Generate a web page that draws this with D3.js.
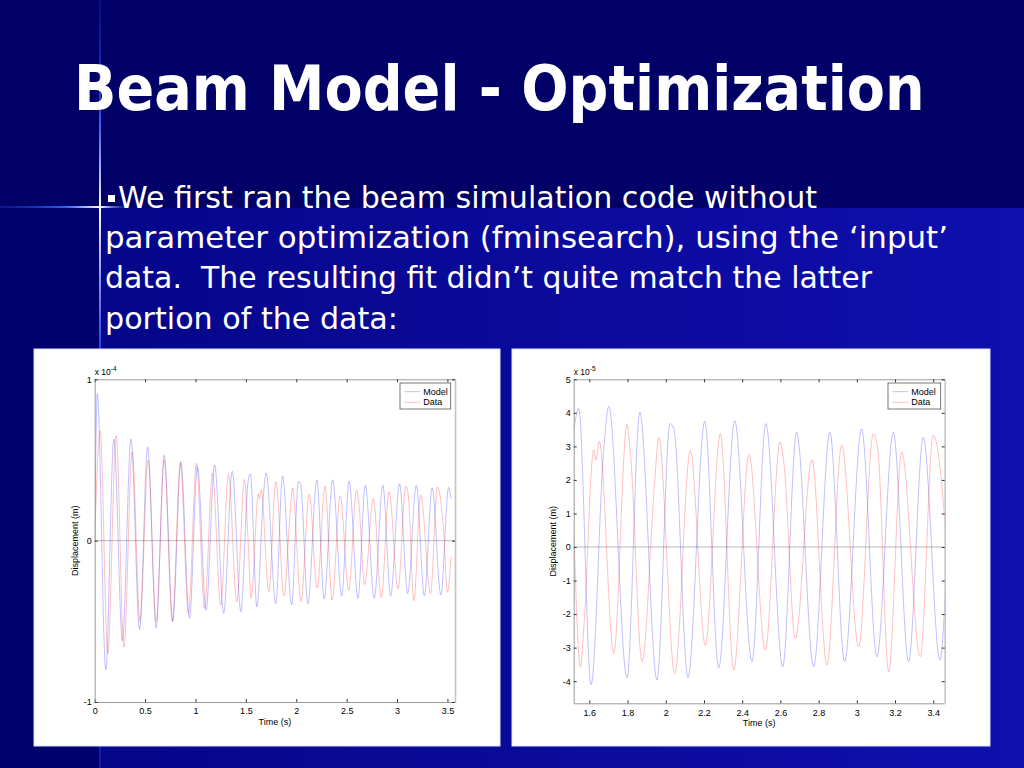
<!DOCTYPE html>
<html>
<head>
<meta charset="utf-8">
<script src="https://cdn.jsdelivr.net/npm/d3@7"></script>
<style>
body { margin: 0; background: #000066; }
svg { display: block; }
</style>
</head>
<body>
<script>
// displacement in units of 1e-5 m, time in s (peaks/troughs)
var modelTimeEarly = [0, 0.026, 0.11, 0.19, 0.275, 0.36, 0.445, 0.525, 0.61, 0.69, 0.775, 0.855, 0.94, 1.02, 1.105, 1.19, 1.28, 1.365, 1.45];
var modelValueEarly = [0, 9.1, -8.0, 6.3, -6.2, 6.3, -5.5, 5.8, -5.4, 5.3, -5.0, 4.9, -4.8, 4.6, -4.3, 4.7, -4.5, 4.3, -4.4];
var dataTimeEarly = [0, 0.054, 0.13, 0.213, 0.29, 0.372, 0.45, 0.53, 0.61, 0.69, 0.77, 0.85, 0.93, 1.0095, 1.09, 1.1685, 1.25, 1.3275, 1.41, 1.4865];
var dataValueEarly = [0, 6.8, -7.0, 6.5, -6.6, 5.5, -5.0, 5.0, -5.0, 5.0, -5.0, 4.8, -4.5, 4.8, -4.2, 4.2, -4.0, 4.1, -3.8, 3.8];

var modelTimeLate = [1.52, 1.5445, 1.609, 1.675, 1.7015, 1.797, 1.864, 1.954, 2.022, 2.043, 2.116, 2.204, 2.277, 2.361, 2.451, 2.524, 2.612, 2.685, 2.774, 2.859, 2.936, 3.025, 3.105, 3.191, 3.271, 3.348, 3.435, 3.512, 3.535];
var modelValueLate = [3.56, 4.13, -4.10, 2.9, 4.19, -3.90, 4.02, -3.97, 3.68, 3.5, -3.90, 3.75, -3.60, 3.77, -3.42, 3.68, -3.57, 3.42, -3.57, 3.42, -3.42, 3.52, -3.27, 3.42, -3.42, 3.27, -3.37, 3.3, 2.6];
var dataTimeLate = [1.52, 1.553, 1.571, 1.623, 1.635, 1.652, 1.7277, 1.797, 1.815, 1.876, 1.942, 1.963, 2.047, 2.1285, 2.207, 2.2855, 2.3556, 2.4357, 2.521, 2.598, 2.62, 2.678, 2.765, 2.8435, 2.9208, 3.0097, 3.0861, 3.11, 3.1667, 3.2348, 3.332, 3.4, 3.46, 3.5, 3.535];
var dataValueLate = [0.3, -3.57, -2.4, 2.9, 2.6, 3.15, -3.17, 3.65, 2.8, -3.42, 1.95, 3.27, -3.77, 2.88, -2.93, 3.38, -3.67, 2.75, -3.07, 3.13, 2.4, -2.73, 2.6, -3.52, 3.03, -2.98, 3.37, 2.9, -3.72, 2.83, -3.27, 3.33, 0.8, -3.2, -1.0];

var leftXTicks = [0, 0.5, 1, 1.5, 2, 2.5, 3, 3.5];
var leftYTicks = [-1, 0, 1];
var rightXTicks = [1.6, 1.8, 2, 2.2, 2.4, 2.6, 2.8, 3, 3.2, 3.4];
var rightYTicks = [-4, -3, -2, -1, 0, 1, 2, 3, 4, 5];
var legendNames = ["Model", "Data"];

var titleText = "Beam Model - Optimization";
var bodyLines = [
  "We first ran the beam simulation code without",
  "parameter optimization (fminsearch), using the \u2018input\u2019",
  "data.  The resulting fit didn\u2019t quite match the latter",
  "portion of the data:"
];

var svg = d3.select("body").append("svg")
    .attr("width", 1024)
    .attr("height", 768);
var defs = svg.append("defs");

// --- slide background ---
var lower = defs.append("linearGradient").attr("id", "lower").attr("x1", 0).attr("x2", 1).attr("y1", 0).attr("y2", 0);
lower.append("stop").attr("offset", 0).attr("stop-color", "#06068a");
lower.append("stop").attr("offset", 1).attr("stop-color", "#0f0fae");

var vglow = defs.append("linearGradient").attr("id", "vglow").attr("x1", 0).attr("x2", 0).attr("y1", 0).attr("y2", 1);
vglow.append("stop").attr("offset", 0).attr("stop-color", "#1530b0").attr("stop-opacity", 0.3);
vglow.append("stop").attr("offset", 0.14).attr("stop-color", "#2a55ff").attr("stop-opacity", 0.8);
vglow.append("stop").attr("offset", 0.27).attr("stop-color", "#ffffff").attr("stop-opacity", 1);
vglow.append("stop").attr("offset", 0.45).attr("stop-color", "#2a55ff").attr("stop-opacity", 0.85);
vglow.append("stop").attr("offset", 1).attr("stop-color", "#1a3ad0").attr("stop-opacity", 0.5);

var hglow = defs.append("linearGradient").attr("id", "hglow").attr("x1", 0).attr("x2", 1).attr("y1", 0).attr("y2", 0);
hglow.append("stop").attr("offset", 0).attr("stop-color", "#1530c0").attr("stop-opacity", 0.4);
hglow.append("stop").attr("offset", 0.5).attr("stop-color", "#3366ff").attr("stop-opacity", 0.9);
hglow.append("stop").attr("offset", 0.77).attr("stop-color", "#ffffff").attr("stop-opacity", 1);
hglow.append("stop").attr("offset", 1).attr("stop-color", "#3366ff").attr("stop-opacity", 0);

svg.append("rect").attr("width", 1024).attr("height", 768).attr("fill", "#000066");
svg.append("rect").attr("x", 0).attr("y", 208).attr("width", 100).attr("height", 560).attr("fill", "#00006e");
svg.append("rect").attr("x", 100).attr("y", 208).attr("width", 924).attr("height", 560).attr("fill", "url(#lower)");
svg.append("rect").attr("x", 99).attr("y", 0).attr("width", 2).attr("height", 768).attr("fill", "url(#vglow)");
svg.append("rect").attr("x", 0).attr("y", 206).attr("width", 130).attr("height", 2).attr("fill", "url(#hglow)");

// --- title and bullet text ---
// size the title so that it spans the same width as in the slide
var title = svg.append("text")
    .attr("x", 74).attr("y", 110)
    .style("font-family", "DejaVu Sans Condensed, DejaVu Sans").style("font-weight", "bold")
    .style("font-size", "63px").style("fill", "#ffffff")
    .text(titleText);
var titleLen = title.node().getComputedTextLength();
if (titleLen > 851) title.style("font-size", (63 * 851 / titleLen) + "px");

svg.append("rect").attr("x", 108).attr("y", 195).attr("width", 7).attr("height", 7).attr("fill", "#ffffff");

var lineStarts = [118, 105, 105, 105];
var lineWidths = [699, 843, 767, 293];
svg.append("g").selectAll("text")
    .data(bodyLines)
    .enter().append("text")
    .attr("x", function(d, i) { return lineStarts[i]; })
    .attr("y", function(d, i) { return 208 + i * 40.2; })
    .attr("textLength", function(d, i) { return lineWidths[i]; })
    .attr("lengthAdjust", "spacingAndGlyphs")
    .style("white-space", "pre")
    .style("font-family", "DejaVu Sans")
    .style("font-size", "30px").style("fill", "#ffffff")
    .text(function(d) { return d; });

// --- plots ---
var font = "Liberation Sans, Arial, sans-serif";

function drawPanel(p) {
  svg.append("rect")
      .attr("x", p.box[0]).attr("y", p.box[1]).attr("width", p.box[2]).attr("height", p.box[3])
      .attr("fill", "#ffffff").attr("stroke", "#dde0ff").attr("stroke-width", 1);

  var x = d3.scaleLinear().domain(p.xDomain).range([p.left, p.right]);
  var y = d3.scaleLinear().domain(p.yDomain).range([p.bottom, p.top]);
  var g = svg.append("g");

  defs.append("clipPath").attr("id", p.id)
    .append("rect")
      .attr("x", p.left).attr("y", p.top)
      .attr("width", p.right - p.left).attr("height", p.bottom - p.top);

  var plot = g.append("g").attr("clip-path", "url(#" + p.id + ")");

  plot.append("line")
      .attr("x1", p.left).attr("x2", p.right)
      .attr("y1", y(0)).attr("y2", y(0))
      .attr("stroke", "#a8a8a8").attr("stroke-width", 0.8);

  var line = d3.line()
      .x(function(d) { return x(d[0]); })
      .y(function(d) { return y(d[1] * p.unit); })
      .curve(d3.curveMonotoneX);

  plot.selectAll("path.series")
      .data(p.series)
      .enter().append("path")
      .attr("class", "series")
      .attr("d", function(s) { return line(d3.zip(s.time, s.value)); })
      .attr("fill", "none")
      .attr("stroke", function(s) { return s.color; })
      .attr("stroke-width", 0.6)
      .attr("stroke-opacity", 0.5);

  var fmt = function(d) { return String(d); };

  function style(a) {
    a.select(".domain").attr("stroke", "#9a9a9a");
    a.selectAll(".tick line").attr("stroke", "#333");
    a.selectAll("text").style("font-family", font).style("font-size", "9px").attr("fill", "#000");
  }

  g.append("g").attr("transform", "translate(0," + p.bottom + ")")
      .call(d3.axisBottom(x).tickValues(p.xTicks).tickFormat(fmt).tickSizeInner(-3).tickSizeOuter(0).tickPadding(6))
      .call(style);
  g.append("g").attr("transform", "translate(0," + p.top + ")")
      .call(d3.axisTop(x).tickValues(p.xTicks).tickFormat("").tickSizeInner(-3).tickSizeOuter(0))
      .call(style);
  g.append("g").attr("transform", "translate(" + p.left + ",0)")
      .call(d3.axisLeft(y).tickValues(p.yTicks).tickFormat(fmt).tickSizeInner(-3).tickSizeOuter(0).tickPadding(3))
      .call(style);
  g.append("g").attr("transform", "translate(" + p.right + ",0)")
      .call(d3.axisRight(y).tickValues(p.yTicks).tickFormat("").tickSizeInner(-3).tickSizeOuter(0))
      .call(function(a) { style(a); a.select(".domain").attr("stroke", "#c4c4c4").attr("stroke-width", 1.6); });

  // exponent label
  var ex = g.append("text")
      .attr("x", p.left).attr("y", p.top - 4)
      .style("font-family", font).style("font-size", "8.5px").attr("fill", "#000")
      .text("x 10");
  ex.append("tspan").attr("dy", -4).style("font-size", "6.5px").text(p.exponent);

  g.append("text")
      .attr("x", (p.left + p.right) / 2).attr("y", p.bottom + 23)
      .attr("text-anchor", "middle")
      .style("font-family", font).style("font-size", "9px").attr("fill", "#000")
      .text("Time (s)");

  g.append("text")
      .attr("transform", "translate(" + p.ylabelX + "," + ((p.top + p.bottom) / 2) + ")rotate(-90)")
      .attr("text-anchor", "middle")
      .style("font-family", font).style("font-size", "9px").attr("fill", "#000")
      .text("Displacement (m)");

  // legend
  var lg = g.append("g").attr("transform", "translate(" + p.legend[0] + "," + p.legend[1] + ")");
  lg.append("rect").attr("width", p.legend[2]).attr("height", 26)
      .attr("fill", "#fff").attr("stroke", "#555").attr("stroke-width", 0.8);
  var item = lg.selectAll("g.item").data(p.series).enter().append("g")
      .attr("transform", function(d, i) { return "translate(0," + (8.7 + i * 10.6) + ")"; });
  item.append("line").attr("x1", 4.5).attr("x2", 20.5)
      .attr("stroke", function(d) { return d.color; })
      .attr("stroke-width", 0.6).attr("stroke-opacity", 0.5);
  item.append("text").attr("x", 23.3).attr("dy", "0.35em")
      .style("font-family", font).style("font-size", "9px").attr("fill", "#000")
      .text(function(d, i) { return legendNames[i]; });
}

var blue = "#2a2aff", red = "#ff2a2a";

drawPanel({
  id: "clipLeft",
  box: [34, 349, 466, 397],
  left: 94.7, right: 455, top: 379.3, bottom: 702,
  xDomain: [0, 3.575], yDomain: [-1, 1], unit: 0.1,
  xTicks: leftXTicks, yTicks: leftYTicks, exponent: "-4",
  ylabelX: 77.5, legend: [400, 383, 50.7],
  series: [
    {time: modelTimeEarly.concat(modelTimeLate), value: modelValueEarly.concat(modelValueLate), color: blue},
    {time: dataTimeEarly.concat(dataTimeLate), value: dataValueEarly.concat(dataValueLate), color: red}
  ]
});

drawPanel({
  id: "clipRight",
  box: [512, 349, 478, 397],
  left: 573.7, right: 944.7, top: 379.3, bottom: 703.3,
  xDomain: [1.518, 3.46], yDomain: [-4.66, 5], unit: 1,
  xTicks: rightXTicks, yTicks: rightYTicks, exponent: "-5",
  ylabelX: 556, legend: [888, 383, 52.7],
  series: [
    {time: modelTimeLate, value: modelValueLate, color: blue},
    {time: dataTimeLate, value: dataValueLate, color: red}
  ]
});
</script>
</body>
</html>
